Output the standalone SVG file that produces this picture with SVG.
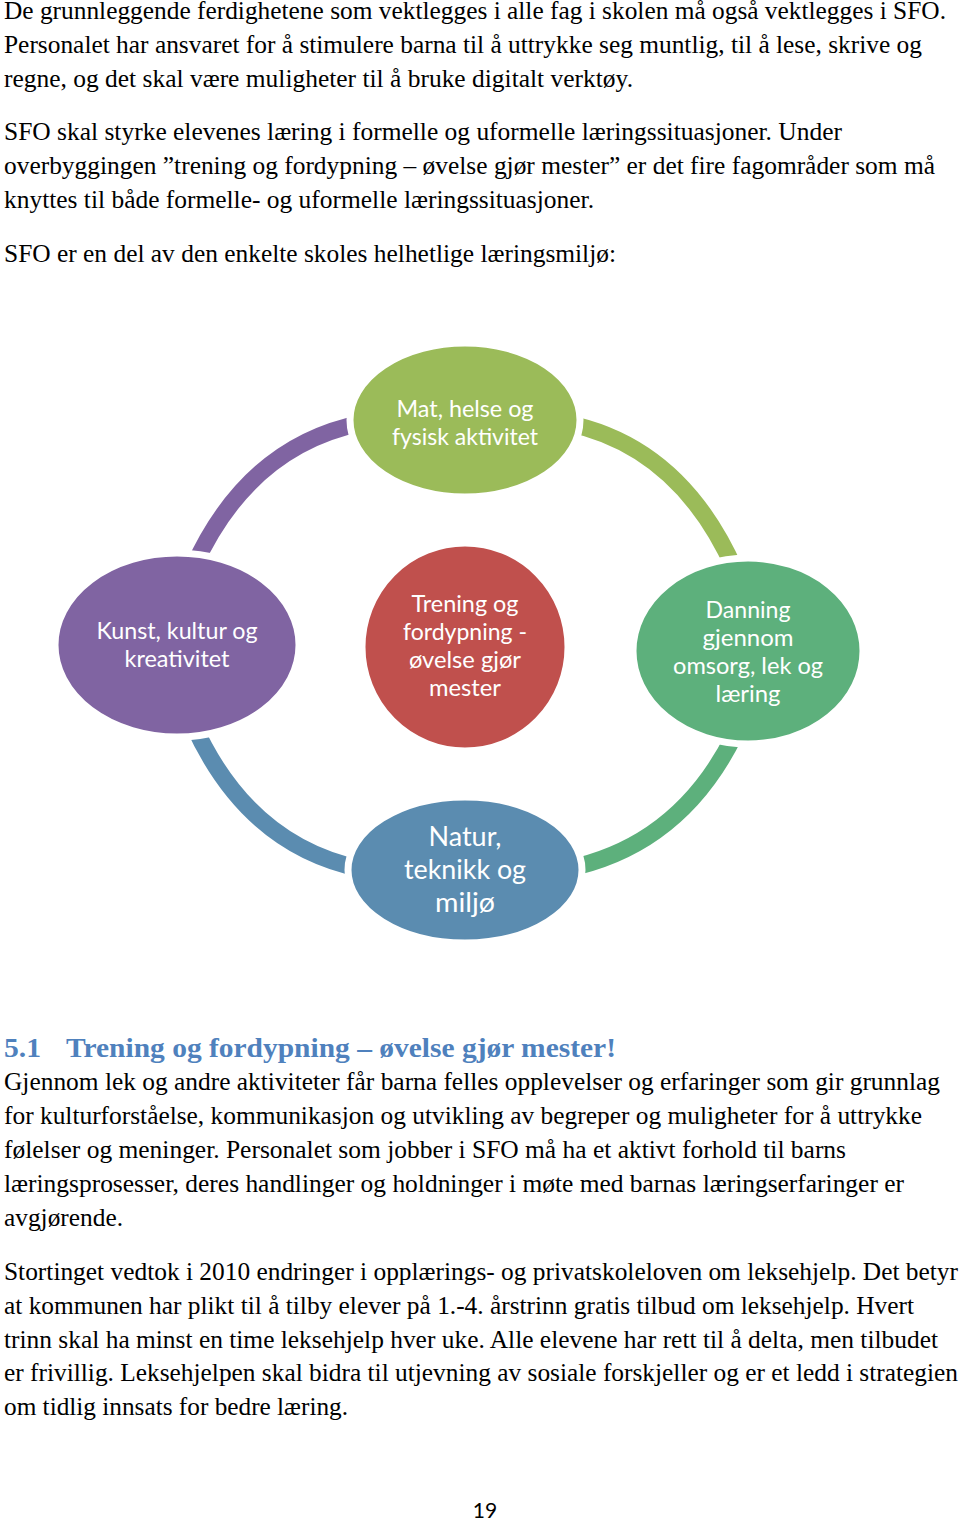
<svg xmlns="http://www.w3.org/2000/svg" width="960" height="1521" viewBox="0 0 960 1521">
<style>
.b{font-family:"Liberation Serif","Times New Roman",serif;font-size:25px;fill:#000}
.h{font-family:"Liberation Serif","Times New Roman",serif;font-size:28px;font-weight:bold;fill:#4F81BD}
.n{font-family:Lato,"Liberation Sans",sans-serif;font-size:23px;fill:#fff;text-anchor:middle}
.nb{font-family:Lato,"Liberation Sans",sans-serif;font-size:27px;fill:#fff;text-anchor:middle}
.arc{fill:none;stroke-width:17;stroke-linecap:butt}
.node{stroke:#fff;stroke-width:7}
.pg{font-family:Lato,"Liberation Sans",sans-serif;font-size:21px;fill:#000;text-anchor:middle}
</style>
<rect width="960" height="1521" fill="#fff"/>
<g id="intro-text">
<text class="b" x="4" y="19" textLength="942" lengthAdjust="spacingAndGlyphs">De grunnleggende ferdighetene som vektlegges i alle fag i skolen må også vektlegges i SFO.</text>
<text class="b" x="4" y="53" textLength="918" lengthAdjust="spacingAndGlyphs">Personalet har ansvaret for å stimulere barna til å uttrykke seg muntlig, til å lese, skrive og</text>
<text class="b" x="4" y="87" textLength="629" lengthAdjust="spacingAndGlyphs">regne, og det skal være muligheter til å bruke digitalt verktøy.</text>
<text class="b" x="4" y="140" textLength="838" lengthAdjust="spacingAndGlyphs">SFO skal styrke elevenes læring i formelle og uformelle læringssituasjoner. Under</text>
<text class="b" x="4" y="174" textLength="931" lengthAdjust="spacingAndGlyphs">overbyggingen ”trening og fordypning – øvelse gjør mester” er det fire fagområder som må</text>
<text class="b" x="4" y="208" textLength="590" lengthAdjust="spacingAndGlyphs">knyttes til både formelle- og uformelle læringssituasjoner.</text>
<text class="b" x="4" y="262" textLength="612" lengthAdjust="spacingAndGlyphs">SFO er en del av den enkelte skoles helhetlige læringsmiljø:</text>
</g>
<g id="connectors">
<path class="arc" stroke="#8064A2" d="M193,568 Q248,446 362,423"/>
<path class="arc" stroke="#9BBB59" d="M566,423 Q680,446 735,570"/>
<path class="arc" stroke="#5DB07C" d="M566,869 Q680,846 735,734"/>
<path class="arc" stroke="#5B8CB0" d="M193,724 Q248,846 362,869"/>
</g>
<g id="node-mat">
<ellipse class="node" cx="465" cy="420" rx="115" ry="77" fill="#9BBB59"/>
<text class="n" x="465" y="417" textLength="137" lengthAdjust="spacingAndGlyphs">Mat, helse og</text>
<text class="n" x="465" y="445" textLength="146" lengthAdjust="spacingAndGlyphs">fysisk aktivitet</text>
</g>
<g id="node-kunst">
<ellipse class="node" cx="177" cy="645" rx="122" ry="92" fill="#8064A2"/>
<text class="n" x="177" y="639" textLength="161" lengthAdjust="spacingAndGlyphs">Kunst, kultur og</text>
<text class="n" x="177" y="667" textLength="105" lengthAdjust="spacingAndGlyphs">kreativitet</text>
</g>
<g id="node-trening">
<ellipse class="node" cx="465" cy="647" rx="103" ry="104" fill="#C0504D"/>
<text class="n" x="465" y="612" textLength="107" lengthAdjust="spacingAndGlyphs">Trening og</text>
<text class="n" x="465" y="640" textLength="124" lengthAdjust="spacingAndGlyphs">fordypning -</text>
<text class="n" x="465" y="668" textLength="112" lengthAdjust="spacingAndGlyphs">øvelse gjør</text>
<text class="n" x="465" y="696" textLength="72" lengthAdjust="spacingAndGlyphs">mester</text>
</g>
<g id="node-danning">
<ellipse class="node" cx="748" cy="651" rx="115" ry="93" fill="#5DB07C"/>
<text class="n" x="748" y="618" textLength="85" lengthAdjust="spacingAndGlyphs">Danning</text>
<text class="n" x="748" y="646" textLength="91" lengthAdjust="spacingAndGlyphs">gjennom</text>
<text class="n" x="748" y="674" textLength="150" lengthAdjust="spacingAndGlyphs">omsorg, lek og</text>
<text class="n" x="748" y="702" textLength="65" lengthAdjust="spacingAndGlyphs">læring</text>
</g>
<g id="node-natur">
<ellipse class="node" cx="465" cy="870" rx="117" ry="73" fill="#5B8CB0"/>
<text class="nb" x="465" y="846" textLength="73" lengthAdjust="spacingAndGlyphs">Natur,</text>
<text class="nb" x="465" y="879" textLength="122" lengthAdjust="spacingAndGlyphs">teknikk og</text>
<text class="nb" x="465" y="912" textLength="60" lengthAdjust="spacingAndGlyphs">miljø</text>
</g>
<g id="section-text">
<text class="h" x="4" y="1057" textLength="37" lengthAdjust="spacingAndGlyphs">5.1</text>
<text class="h" x="66" y="1057" textLength="550" lengthAdjust="spacingAndGlyphs">Trening og fordypning – øvelse gjør mester!</text>
<text class="b" x="4" y="1090" textLength="936" lengthAdjust="spacingAndGlyphs">Gjennom lek og andre aktiviteter får barna felles opplevelser og erfaringer som gir grunnlag</text>
<text class="b" x="4" y="1124" textLength="918" lengthAdjust="spacingAndGlyphs">for kulturforståelse, kommunikasjon og utvikling av begreper og muligheter for å uttrykke</text>
<text class="b" x="4" y="1158" textLength="842" lengthAdjust="spacingAndGlyphs">følelser og meninger. Personalet som jobber i SFO må ha et aktivt forhold til barns</text>
<text class="b" x="4" y="1192" textLength="900" lengthAdjust="spacingAndGlyphs">læringsprosesser, deres handlinger og holdninger i møte med barnas læringserfaringer er</text>
<text class="b" x="4" y="1226" textLength="119" lengthAdjust="spacingAndGlyphs">avgjørende.</text>
<text class="b" x="4" y="1280" textLength="954" lengthAdjust="spacingAndGlyphs">Stortinget vedtok i 2010 endringer i opplærings- og privatskoleloven om leksehjelp. Det betyr</text>
<text class="b" x="4" y="1314" textLength="910" lengthAdjust="spacingAndGlyphs">at kommunen har plikt til å tilby elever på 1.-4. årstrinn gratis tilbud om leksehjelp. Hvert</text>
<text class="b" x="4" y="1348" textLength="934" lengthAdjust="spacingAndGlyphs">trinn skal ha minst en time leksehjelp hver uke. Alle elevene har rett til å delta, men tilbudet</text>
<text class="b" x="4" y="1381" textLength="954" lengthAdjust="spacingAndGlyphs">er frivillig. Leksehjelpen skal bidra til utjevning av sosiale forskjeller og er et ledd i strategien</text>
<text class="b" x="4" y="1415" textLength="344" lengthAdjust="spacingAndGlyphs">om tidlig innsats for bedre læring.</text>
<text class="pg" x="485" y="1518">19</text>
</g>
</svg>
